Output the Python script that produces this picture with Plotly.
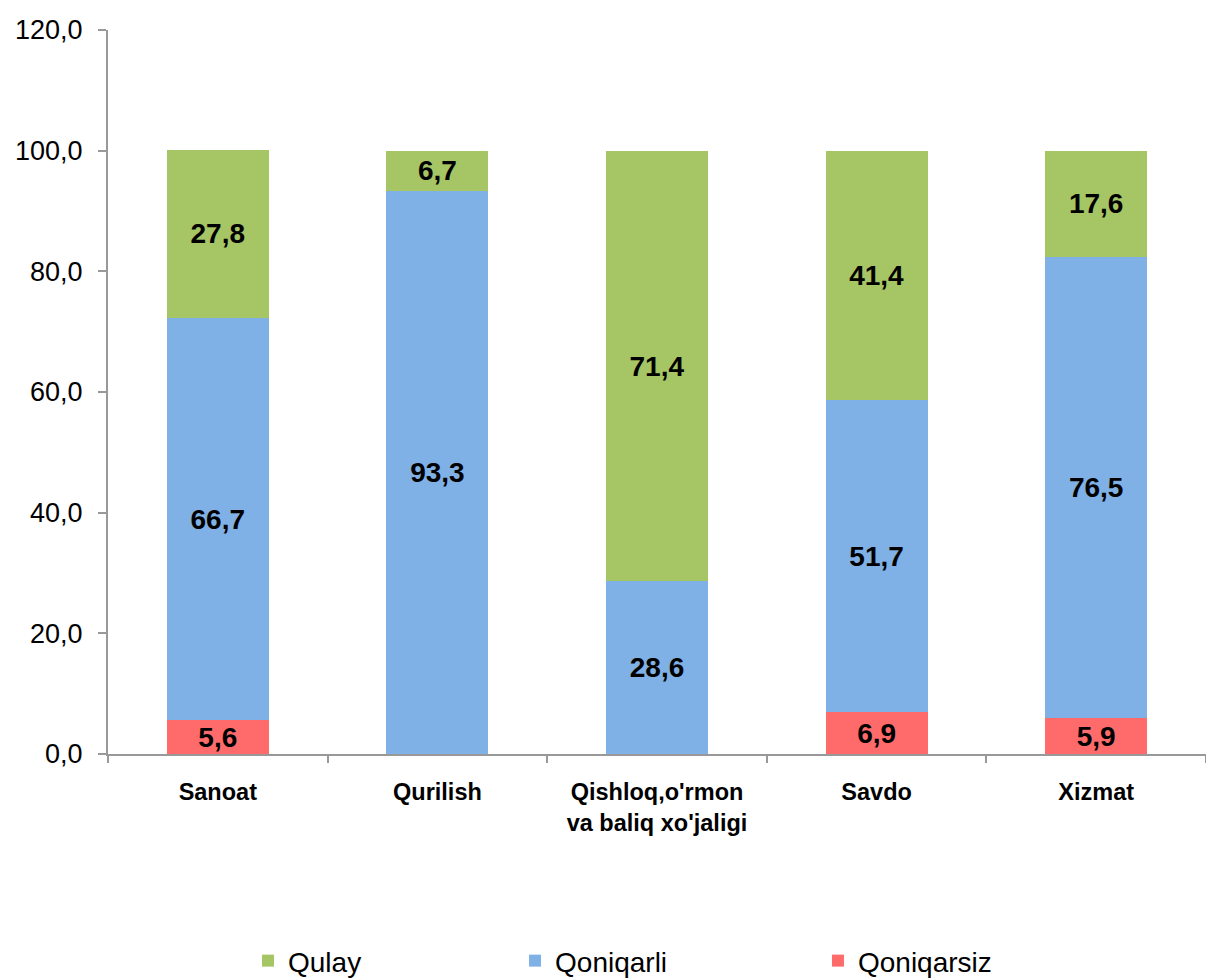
import plotly.graph_objects as go

categories = ["Sanoat", "Qurilish", "Qishloq,o'rmon<br>va baliq xo'jaligi", "Savdo", "Xizmat"]
qulay = [27.8, 6.7, 71.4, 41.4, 17.6]
qoniqarli = [66.7, 93.3, 28.6, 51.7, 76.5]
qoniqarsiz = [5.6, 0.0, 0.0, 6.9, 5.9]
y_ticks = [0, 20, 40, 60, 80, 100, 120]

def fmt(v):
    return f"{v:.1f}".replace(".", ",")

FONT = "Liberation Sans, Arial, sans-serif"
fig = go.Figure()
series = [
    ("Qoniqarsiz", qoniqarsiz, "#FF6B6B", "legend3"),
    ("Qoniqarli", qoniqarli, "#7FB0E6", "legend2"),
    ("Qulay", qulay, "#A6C564", "legend"),
]
for name, vals, color, lg in series:
    fig.add_trace(go.Bar(
        name=name, x=categories, y=vals, marker_color=color, marker_line_width=0,
        text=["" if v == 0 else fmt(v) for v in vals], textposition="inside",
        insidetextanchor="middle", textangle=0, constraintext="none",
        textfont=dict(family=FONT, size=28, color="black", weight="bold"),
        legend=lg, showlegend=True,
    ))

legfont = dict(family=FONT, size=28, color="black")
ly = 0.044
fig.update_layout(
    barmode="stack", bargap=0.535,
    width=1206, height=979,
    margin=dict(l=108, r=0, t=30, b=225),
    plot_bgcolor="white", paper_bgcolor="white",
    uniformtext=dict(mode=False),
    legend=dict(x=0.1275, y=ly, yref="container", xanchor="left", yanchor="top",
                orientation="h", font=legfont, bgcolor="rgba(0,0,0,0)"),
    legend2=dict(x=0.3707, y=ly, yref="container", xanchor="left", yanchor="top",
                 orientation="h", font=legfont, bgcolor="rgba(0,0,0,0)"),
    legend3=dict(x=0.6466, y=ly, yref="container", xanchor="left", yanchor="top",
                 orientation="h", font=legfont, bgcolor="rgba(0,0,0,0)"),
    xaxis=dict(showline=True, linecolor="#999999", linewidth=2, ticks="outside",
               tickson="boundaries", ticklen=7, tickcolor="#999999", tickwidth=2,
               ticklabelstandoff=16,
               tickfont=dict(family=FONT, size=23.5, color="black", weight="bold")),
    yaxis=dict(range=[0, 120], tickvals=y_ticks, ticktext=[fmt(v) for v in y_ticks],
               showline=True, linecolor="#999999", linewidth=2, ticks="outside", ticklen=8,
               tickcolor="#999999", tickwidth=2, showgrid=False, zeroline=False,
               ticklabelstandoff=10,
               tickfont=dict(family=FONT, size=27, color="black")),
)
fig.write_html("out.html", config={"displayModeBar": False},
               post_script="document.body.style.margin='0';document.body.style.padding='0';")
